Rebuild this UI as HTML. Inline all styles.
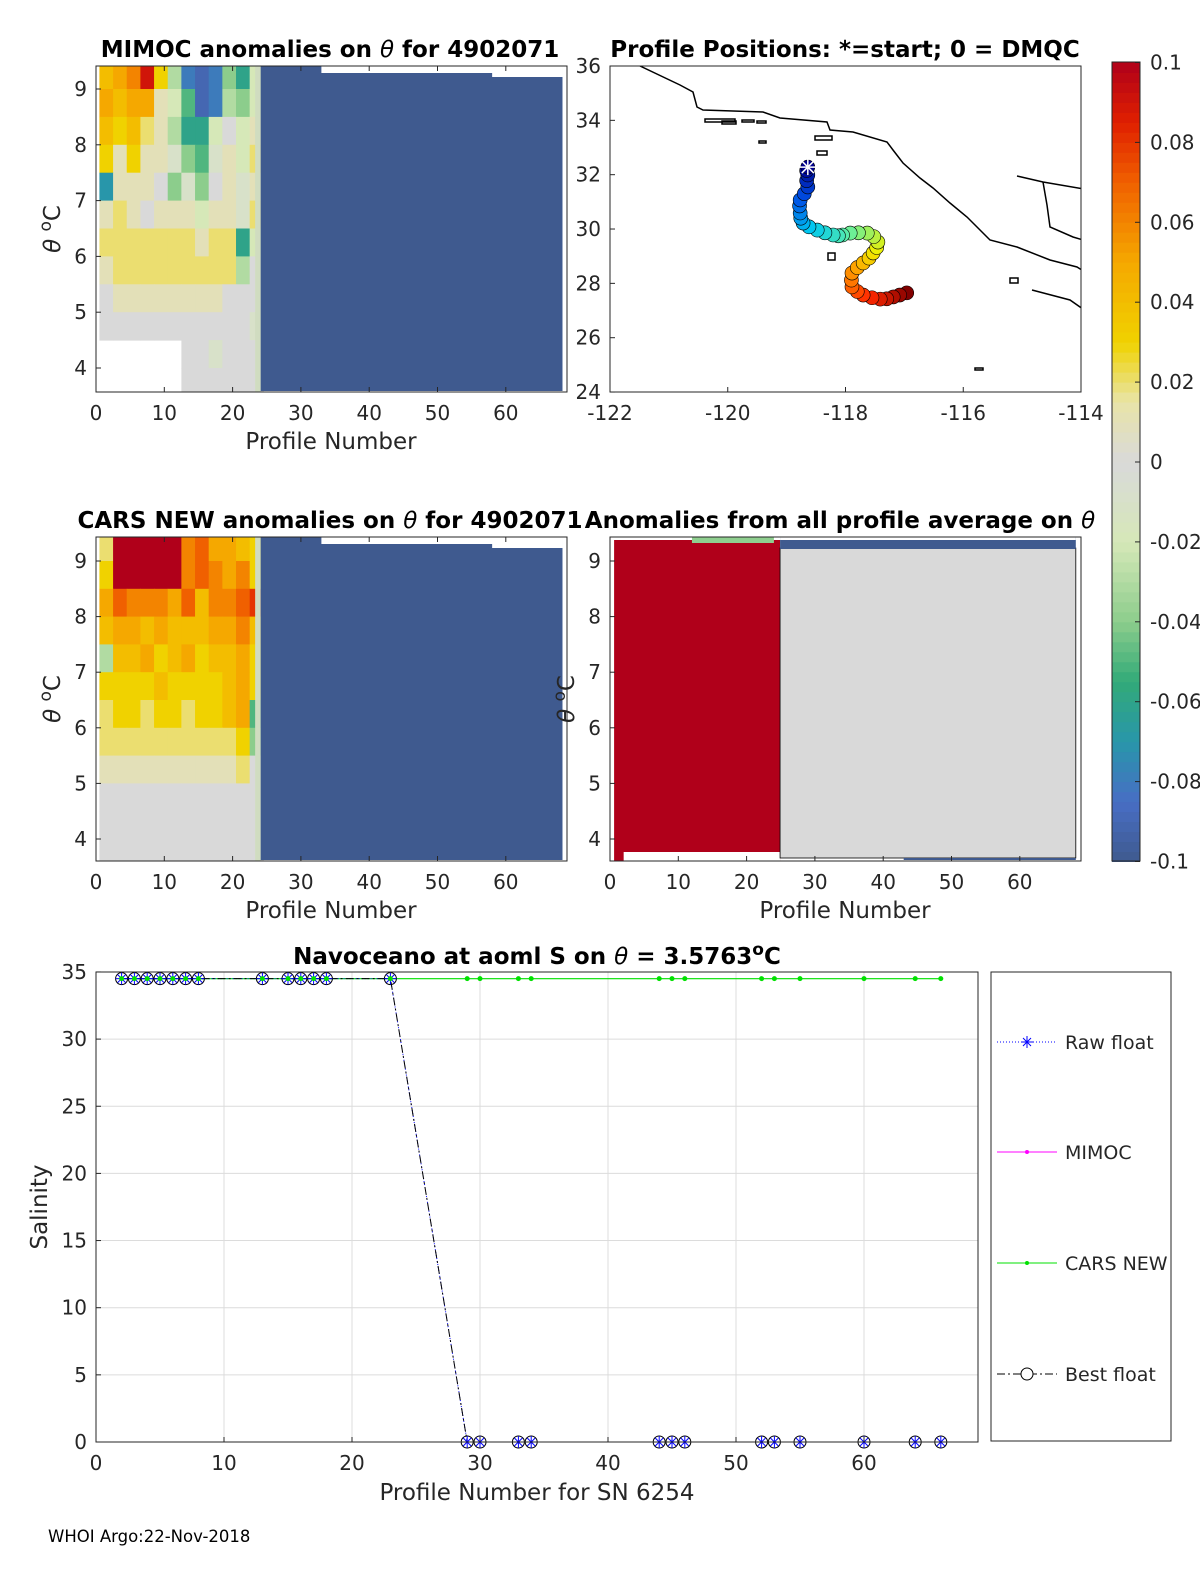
<!DOCTYPE html>
<html><head><meta charset="utf-8"><style>
body{margin:0;background:#fff}
svg{display:block;font-family:"DejaVu Sans","Liberation Sans",sans-serif}
.tk{font-size:20px;fill:#262626}
.ttl{font-size:23px;font-weight:bold;fill:#000}
.lbl{font-size:23px;fill:#262626}
.lg{font-size:19px;fill:#262626}
</style></head><body>
<svg id="fig" width="1200" height="1575" viewBox="0 0 1200 1575" xmlns="http://www.w3.org/2000/svg">
<defs>
<clipPath id="c1"><rect x="96" y="66" width="471" height="326"/></clipPath>
<clipPath id="c2"><rect x="610" y="66" width="471" height="326"/></clipPath>
<clipPath id="c3"><rect x="96" y="537" width="471" height="324"/></clipPath>
<clipPath id="c4"><rect x="610" y="537" width="471" height="324"/></clipPath>
</defs>
<g id="g1"></g>
<g id="g2"></g>
<g id="g3"></g>
<g id="g4"></g>
<g id="g5"></g>
<g id="g6"></g>
<text x="48" y="1542" font-size="16.5" fill="#000">WHOI Argo:22-Nov-2018</text>
</svg>
<script>
// ---------- data ----------
const thetaRows = [9.25,8.75,8.25,7.75,7.25,6.75,6.25,5.75,5.25,4.75,4.25,3.75];
const mimocVals = [
[0.04,0.05,0.06,0.09,0.03,-0.03,-0.08,-0.09,-0.08,-0.04,-0.06,-0.02],
[0.05,0.04,0.05,0.05,0.01,-0.02,-0.05,-0.09,-0.08,-0.03,-0.04,-0.02],
[0.04,0.03,0.04,0.02,0.01,-0.03,-0.06,-0.06,-0.02,0.0,-0.02,0.01],
[0.03,0.01,0.03,0.01,0.01,-0.01,-0.04,-0.05,-0.01,0.01,-0.02,0.02],
[-0.07,0.01,0.01,0.01,0.0,-0.04,-0.01,-0.04,0.0,0.01,-0.01,0.01],
[0.01,0.02,0.01,0.0,0.01,0.01,0.01,-0.02,0.01,0.01,-0.01,0.02],
[0.02,0.02,0.02,0.02,0.02,0.02,0.02,0.01,0.02,0.02,-0.06,-0.02],
[0.01,0.02,0.02,0.02,0.02,0.02,0.02,0.02,0.02,0.02,-0.03,0.0],
[0.0,0.01,0.01,0.01,0.01,0.01,0.01,0.01,0.01,0.0,0.0,0.0],
[0.0,0.0,0.0,0.0,0.0,0.0,0.0,0.0,0.0,0.0,0.0,-0.01],
[null,null,null,null,null,null,0,0,-0.01,0,0,0],
[null,null,null,null,null,null,0,0,0,0,0,0]];
const carsVals = [
[0.02,0.1,0.1,0.1,0.1,0.1,0.06,0.07,0.05,0.05,0.04,0.03],
[0.03,0.1,0.1,0.1,0.1,0.1,0.06,0.07,0.06,0.05,0.06,0.03],
[0.05,0.07,0.06,0.06,0.06,0.05,0.07,0.04,0.06,0.06,0.07,0.08],
[0.04,0.05,0.05,0.04,0.05,0.04,0.04,0.04,0.05,0.05,0.06,0.04],
[-0.03,0.04,0.04,0.05,0.03,0.04,0.05,0.03,0.04,0.04,0.05,0.03],
[0.03,0.03,0.03,0.03,0.04,0.03,0.03,0.03,0.03,0.04,0.05,0.03],
[0.02,0.03,0.03,0.02,0.03,0.03,0.02,0.03,0.03,0.04,0.05,-0.05],
[0.02,0.02,0.02,0.02,0.02,0.02,0.02,0.02,0.02,0.02,0.03,-0.04],
[0.01,0.01,0.01,0.01,0.01,0.01,0.01,0.01,0.01,0.01,0.02,0],
[0,0,0,0,0,0,0,0,0,0,0,0],
[0,0,0,0,0,0,0,0,0,0,0,0],
[0,0,0,0,0,0,0,0,0,0,0,0]];
const trackLon = [-118.64,-118.66,-118.64,-118.66,-118.64,-118.70,-118.77,-118.78,-118.77,-118.76,-118.72,-118.62,-118.48,-118.35,-118.21,-118.12,-118.05,-117.92,-117.78,-117.63,-117.52,-117.45,-117.47,-117.53,-117.60,-117.70,-117.80,-117.89,-117.90,-117.89,-117.80,-117.70,-117.55,-117.41,-117.30,-117.19,-117.08,-116.96];
const trackLat = [32.28,32.15,31.99,31.78,31.55,31.30,31.07,30.85,30.59,30.40,30.22,30.08,29.96,29.86,29.78,29.75,29.78,29.85,29.86,29.85,29.72,29.52,29.32,29.12,28.93,28.75,28.58,28.38,28.12,27.87,27.70,27.57,27.47,27.42,27.43,27.50,27.57,27.65];
const profiles = [2,3,4,5,6,7,8,13,15,16,17,18,23,29,30,33,34,44,45,46,52,53,55,60,64,66];
const salinity = [34.5,34.5,34.5,34.5,34.5,34.5,34.5,34.5,34.5,34.5,34.5,34.5,34.5,0,0,0,0,0,0,0,0,0,0,0,0,0];
const carsSal = [34.5,34.5,34.5,34.5,34.5,34.5,34.5,34.5,34.5,34.5,34.5,34.5,34.5,34.5,34.5,34.5,34.5,34.5,34.5,34.5,34.5,34.5,34.5,34.5,34.5,34.5];
const salTicks = [0,5,10,15,20,25,30,35];
const profTicks = [0,10,20,30,40,50,60];
const thetaTicks = [4,5,6,7,8,9];
const lonTicks = [-122,-120,-118,-116,-114];
const latTicks = [24,26,28,30,32,34,36];
const cbTicks = [0.1,0.08,0.06,0.04,0.02,0,-0.02,-0.04,-0.06,-0.08,-0.1];

// ---------- helpers ----------
const NS="http://www.w3.org/2000/svg";
function mk(tag,parent,attrs){const e=document.createElementNS(NS,tag);for(const k in attrs)e.setAttribute(k,attrs[k]);parent.appendChild(e);return e;}
const stops=[[-0.1,[63,90,143]],[-0.085,[72,110,196]],[-0.07,[40,150,170]],[-0.055,[50,170,120]],[-0.04,[140,205,140]],[-0.02,[214,232,184]],[0,[217,217,217]],[0.015,[232,228,168]],[0.03,[240,210,0]],[0.05,[245,168,0]],[0.07,[240,96,0]],[0.085,[224,32,0]],[0.1,[176,0,26]]];
function cmap(v){v=Math.max(-0.1,Math.min(0.1,v));for(let i=0;i<stops.length-1;i++){const a=stops[i],b=stops[i+1];if(v<=b[0]){const t=(v-a[0])/(b[0]-a[0]);const c=a[1].map((x,j)=>Math.round(x+(b[1][j]-x)*t));return `rgb(${c})`;}}return 'rgb(176,0,26)';}
const BLUE='#3f5a8f';

function axesFrame(g,x0,y0,w,h){mk('rect',g,{x:x0,y:y0,width:w,height:h,fill:'none',stroke:'#262626','stroke-width':1});}

function heatPanel(g,top,vals,clip,title,tx){
  const X=p=>96+p*6.83;
  const Yt=t=>(top===66? 89-(t-9)*55.8 : 561-(t-9)*55.6);
  const h=top===66?326:324;
  const cells=mk('g',g,{'clip-path':`url(#${clip})`});
  vals.forEach((row,r)=>row.forEach((v,c)=>{
    if(v===null)return;
    const rc=mk('rect',cells,{x:X(2*c+0.5),y:Yt(thetaRows[r]+0.25),width:X(2*c+2.5)-X(2*c+0.5)+0.5,height:Yt(thetaRows[r]-0.25)-Yt(thetaRows[r]+0.25)+0.5,fill:cmap(v)});
    
    
  }));
  const b=mk('rect',cells,{x:X(24.1),y:top,width:X(68.3)-X(24.1),height:h-1,fill:BLUE});
  
  
  mk('rect',cells,{x:X(33),y:top,width:X(68.3)-X(33),height:7,fill:'#fff'});
  mk('rect',cells,{x:X(58),y:top+7,width:X(68.3)-X(58),height:4,fill:'#fff'});
  mk('rect',cells,{x:X(23.3),y:top,width:X(24.1)-X(23.3),height:h,fill:'#d0dcc0'});
  axesFrame(g,96,top,471,h);
  profTicks.forEach(p=>{mk('line',g,{x1:X(p),x2:X(p),y1:top+h,y2:top+h-5,stroke:'#262626'});mk('line',g,{x1:X(p),x2:X(p),y1:top,y2:top+5,stroke:'#262626'});const t=mk('text',g,{x:X(p),y:top+h+28,'text-anchor':'middle',class:'tk'});t.textContent=p;});
  thetaTicks.forEach(v=>{mk('line',g,{x1:96,x2:101,y1:Yt(v),y2:Yt(v),stroke:'#262626'});const t=mk('text',g,{x:87,y:Yt(v)+7,'text-anchor':'end',class:'tk'});t.textContent=v;});
  const xl=mk('text',g,{x:331,y:top+h+57,'text-anchor':'middle',class:'lbl'});xl.textContent='Profile Number';
  
  const yl=mk('text',g,{x:0,y:0,transform:`translate(60,${top+h/2}) rotate(-90)`,'text-anchor':'middle',class:'lbl'});
  yl.innerHTML='<tspan font-style="italic">θ</tspan> <tspan dy="-9" font-size="17">o</tspan><tspan dy="9">C</tspan>';
  
  const tt=mk('text',g,{x:tx,y:top-9,'text-anchor':'middle',class:'ttl'});tt.innerHTML=title;
  
}
heatPanel(document.getElementById('g1'),66,mimocVals,'c1','MIMOC anomalies on <tspan font-style="italic" font-weight="normal">θ</tspan>  for 4902071',330);
heatPanel(document.getElementById('g3'),537,carsVals,'c3','CARS NEW anomalies on <tspan font-style="italic" font-weight="normal">θ</tspan> for 4902071',330);

// ---------- map ----------
(function(){
  const g=document.getElementById('g2');
  const LX=l=>610+(l+122)*58.875, LY=l=>66+(36-l)*27.17;
  const m=mk('g',g,{'clip-path':'url(#c2)'});
  const coasts=[
   "640,66 680,85 693,92 697,107 703,110 763,112 780,118 827,122 830,130 853,132 887,142 893,150 903,163 920,178 933,188 950,203 967,217 980,230 990,240 1017,247 1050,260 1077,267 1090,275",
   "1032,290 1070,300 1090,314",
   "1017,176 1043,182 1090,190",
   "1043,182 1047,205 1050,227 1073,237 1090,242"];
  coasts.forEach(c=>{const p=mk('polyline',m,{points:c,fill:'none',stroke:'#000','stroke-width':1.5});});
  [[705,119,30,3],[722,121,14,3],[742,120,12,2],[757,121,9,2],[759,141,7,2],[815,136,17,4],[817,151,10,4],[828,253,7,7],[975,368,8,2],[1010,278,8,5]].forEach(r=>mk('rect',m,{x:r[0],y:r[1],width:r[2],height:r[3],fill:'none',stroke:'#000','stroke-width':1.5}));
  const n=trackLon.length;
  const jet=[[0,[0,0,140]],[0.15,[0,80,230]],[0.3,[0,200,240]],[0.45,[100,240,160]],[0.6,[240,240,0]],[0.72,[255,150,0]],[0.85,[255,40,0]],[1,[130,0,0]]];
  for(let i=n-1;i>=0;i--){
    const t=i/(n-1);
    let col;for(let k=0;k<jet.length-1;k++){if(t<=jet[k+1][0]){const a=jet[k],b=jet[k+1],u=(t-a[0])/(b[0]-a[0]);col=`rgb(${a[1].map((x,j)=>Math.round(x+(b[1][j]-x)*u))})`;break;}}
    const c=mk('circle',m,{cx:LX(trackLon[i]),cy:LY(trackLat[i]),r:7,fill:col,stroke:'#000','stroke-width':0.6});
    
    
  }
  const sx=LX(trackLon[0]),sy=LY(trackLat[0]);
  [[8,0],[0,8],[6,6],[6,-6]].forEach(d=>mk('line',m,{x1:sx-d[0],y1:sy-d[1],x2:sx+d[0],y2:sy+d[1],stroke:'#fff','stroke-width':1.5}));
  axesFrame(g,610,66,471,326);
  lonTicks.forEach(v=>{mk('line',g,{x1:LX(v),x2:LX(v),y1:392,y2:387,stroke:'#262626'});const t=mk('text',g,{x:LX(v),y:420,'text-anchor':'middle',class:'tk'});t.textContent=v;});
  latTicks.forEach(v=>{mk('line',g,{x1:610,x2:615,y1:LY(v),y2:LY(v),stroke:'#262626'});const t=mk('text',g,{x:601,y:LY(v)+7,'text-anchor':'end',class:'tk'});t.textContent=v;});
  const tt=mk('text',g,{x:845,y:57,'text-anchor':'middle',class:'ttl'});tt.textContent='Profile Positions: *=start; 0 = DMQC';
  
})();

// ---------- panel 4 ----------
(function(){
  const g=document.getElementById('g4');
  const X=p=>610+p*6.83, Yt=t=>561-(t-9)*55.6;
  const m=mk('g',g,{'clip-path':'url(#c4)'});
  const r1=mk('rect',m,{x:X(0.6),y:540,width:X(24.9)-X(0.6),height:321,fill:'#b0001a'});
  
  mk('rect',m,{x:X(2),y:852,width:X(24.9)-X(2),height:9,fill:'#fff'});
  mk('rect',m,{x:X(24.9),y:852,width:X(29)-X(24.9),height:5,fill:'#b0001a'});
  const r2=mk('rect',m,{x:X(24.9),y:548,width:X(68.2)-X(24.9),height:310,fill:'#d9d9d9',stroke:'#000','stroke-width':0.8});
  
  mk('rect',m,{x:X(24.9),y:537,width:X(68.2)-X(24.9),height:12,fill:BLUE});
  mk('rect',m,{x:X(24.9),y:537,width:X(68.2)-X(24.9),height:3,fill:'#fff'});
  mk('rect',m,{x:X(43),y:858,width:X(68.2)-X(43),height:2,fill:BLUE});
  mk('rect',m,{x:X(12),y:537,width:X(24)-X(12),height:6,fill:'#8fcf8f'});
  axesFrame(g,610,537,471,324);
  profTicks.forEach(p=>{mk('line',g,{x1:X(p),x2:X(p),y1:861,y2:856,stroke:'#262626'});const t=mk('text',g,{x:X(p),y:889,'text-anchor':'middle',class:'tk'});t.textContent=p;});
  thetaTicks.forEach(v=>{mk('line',g,{x1:610,x2:615,y1:Yt(v),y2:Yt(v),stroke:'#262626'});const t=mk('text',g,{x:601,y:Yt(v)+7,'text-anchor':'end',class:'tk'});t.textContent=v;});
  const xl=mk('text',g,{x:845,y:918,'text-anchor':'middle',class:'lbl'});xl.textContent='Profile Number';
  
  const yl=mk('text',g,{x:0,y:0,transform:'translate(574,699) rotate(-90)','text-anchor':'middle',class:'lbl'});
  yl.innerHTML='<tspan font-style="italic">θ</tspan> <tspan dy="-9" font-size="17">o</tspan><tspan dy="9">C</tspan>';
  const tt=mk('text',g,{x:840,y:528,'text-anchor':'middle',class:'ttl'});tt.innerHTML='Anomalies from all profile average on <tspan font-style="italic" font-weight="normal">θ</tspan>';
  
})();

// ---------- colorbar ----------
(function(){
  const g=document.getElementById('g5');
  const CY=v=>462-v*3995;
  for(let i=0;i<80;i++){const v0=-0.1+i*0.0025;mk('rect',g,{x:1112,y:CY(v0+0.0025),width:28,height:CY(v0)-CY(v0+0.0025)+0.5,fill:cmap(v0+0.00125)});}
  axesFrame(g,1112,62,28,799);
  cbTicks.forEach(v=>{mk('line',g,{x1:1135,x2:1140,y1:CY(v),y2:CY(v),stroke:'#262626'});const t=mk('text',g,{x:1150,y:CY(v)+7,class:'tk'});t.textContent=v;});
})();

// ---------- salinity chart ----------
(function(){
  const g=document.getElementById('g6');
  const X=p=>96+p*12.8, Y=s=>1442-s*13.43;
  salTicks.forEach(v=>{mk('line',g,{x1:96,x2:978,y1:Y(v),y2:Y(v),stroke:'#dcdcdc'});const t=mk('text',g,{x:87,y:Y(v)+7,'text-anchor':'end',class:'tk'});t.textContent=v;});
  profTicks.forEach(p=>{mk('line',g,{x1:X(p),x2:X(p),y1:972,y2:1442,stroke:'#dcdcdc'});const t=mk('text',g,{x:X(p),y:1470,'text-anchor':'middle',class:'tk'});t.textContent=p;});
  const pts=(arr)=>profiles.map((p,i)=>`${X(p)},${Y(arr[i])}`).join(' ');
  const cl=mk('polyline',g,{points:pts(carsSal),fill:'none',stroke:'#00e000','stroke-width':1.2});
  
  const rl=mk('polyline',g,{points:pts(salinity),fill:'none',stroke:'#0000ff','stroke-width':1,'stroke-dasharray':'1,2'});
  
  const bl=mk('polyline',g,{points:pts(salinity),fill:'none',stroke:'#000','stroke-width':1,'stroke-dasharray':'8,3,2,3'});
  
  profiles.forEach((p,i)=>{
    const x=X(p),y=Y(salinity[i]);
    const c=mk('circle',g,{cx:x,cy:y,r:6,fill:'none',stroke:'#000','stroke-width':1});
    
    [[6,0],[0,6],[4,4],[4,-4]].forEach(d=>mk('line',g,{x1:x-d[0],y1:y-d[1],x2:x+d[0],y2:y+d[1],stroke:'#0000ff','stroke-width':1}));
    const gd=mk('circle',g,{cx:X(p),cy:Y(carsSal[i]),r:2.5,fill:'#00e000'});
    
  });
  axesFrame(g,96,972,882,470);
  profTicks.forEach(p=>{mk('line',g,{x1:X(p),x2:X(p),y1:1442,y2:1437,stroke:'#262626'});});
  salTicks.forEach(v=>{mk('line',g,{x1:96,x2:101,y1:Y(v),y2:Y(v),stroke:'#262626'});});
  const xl=mk('text',g,{x:537,y:1500,'text-anchor':'middle',class:'lbl'});xl.textContent='Profile Number for SN 6254';
  
  const yl=mk('text',g,{x:0,y:0,transform:'translate(47,1207) rotate(-90)','text-anchor':'middle',class:'lbl'});yl.textContent='Salinity';
  
  const tt=mk('text',g,{x:537,y:964,'text-anchor':'middle',class:'ttl'});
  tt.innerHTML='Navoceano at aoml S on <tspan font-style="italic" font-weight="normal">θ</tspan> = 3.5763<tspan dy="-9" font-size="17">o</tspan><tspan dy="9">C</tspan>';
  
  const lg=mk('g',g,{});
  
  mk('rect',lg,{x:991,y:972,width:180,height:469,fill:'#fff',stroke:'#262626'});
  const ent=[['Raw float',1042],['MIMOC',1152],['CARS NEW',1263],['Best float',1374]];
  ent.forEach((e,i)=>{
    const y=e[1];
    const eg=mk('g',lg,{});
    
    const st=[{stroke:'#0000ff','stroke-dasharray':'1,2'},{stroke:'#ff00ff'},{stroke:'#00e000'},{stroke:'#000','stroke-dasharray':'8,3,2,3'}][i];
    mk('line',eg,Object.assign({x1:997,x2:1057,y1:y,y2:y,'stroke-width':1},st));
    if(i===0)[[6,0],[0,6],[4,4],[4,-4]].forEach(d=>mk('line',eg,{x1:1027-d[0],y1:y-d[1],x2:1027+d[0],y2:y+d[1],stroke:'#0000ff'}));
    if(i===1)mk('circle',eg,{cx:1027,cy:y,r:2,fill:'#ff00ff'});
    if(i===2)mk('circle',eg,{cx:1027,cy:y,r:2,fill:'#00e000'});
    if(i===3)mk('circle',eg,{cx:1027,cy:y,r:6,fill:'#fff',stroke:'#000'});
    const t=mk('text',eg,{x:1065,y:y+7,class:'lg'});t.textContent=e[0];
  });
})();
</script>
</body></html>
